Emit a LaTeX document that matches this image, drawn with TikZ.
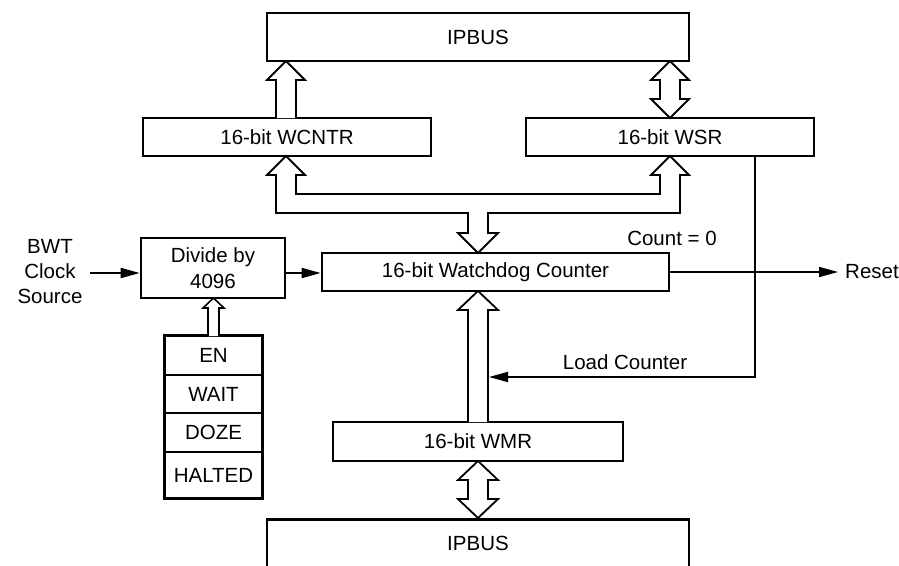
\documentclass[tikz,border=0pt]{standalone}
\usepackage{fontspec}
\setmainfont{Liberation Sans}
\usetikzlibrary{arrows.meta}
\begin{document}
\begin{tikzpicture}[x=1pt,y=-1pt,
  font=\fontsize{20.5}{25}\selectfont,
  box/.style={draw,line width=2.6pt,rectangle,inner sep=0pt,align=center},
  cell/.style={draw,line width=1.8pt,rectangle,inner sep=0pt,minimum width=97pt},
  fat/.style={draw,fill=white,line width=1.8pt,line join=miter},
  wire/.style={line width=1.8pt},
  tip/.style={-{Triangle[length=19pt,width=10pt]}},
  lbl/.style={inner sep=0pt,align=center}]
\clip (0,0) rectangle (899,565);
% boxes
\node[box,minimum width=422pt,minimum height=48pt] (ipbusT) at (478,37) {IPBUS};
\node[box,minimum width=288pt,minimum height=38pt] (wcntr) at (287,137) {16-bit WCNTR};
\node[box,minimum width=288pt,minimum height=38pt] (wsr) at (670,137) {16-bit WSR};
\node[box,minimum width=144pt,minimum height=60pt,font=\fontsize{20.5}{26}\selectfont] (div) at (213,268) {Divide by\\4096};
\node[box,minimum width=347pt,minimum height=38pt] (wdc) at (495.5,272) {16-bit Watchdog Counter};
\node[box,minimum width=290pt,minimum height=39pt] (wmr) at (478,441.5) {16-bit WMR};
\node[box,minimum width=422pt,minimum height=64pt,text height=15pt,anchor=north] (ipbusB) at (478,518) {};
\node[lbl] (ipbusBt) at (478,543) {IPBUS};
% stack
\node[cell,minimum height=39pt] (en) at (213.5,355.5) {EN};
\node[cell,minimum height=38pt] (wait) at (213.5,394) {WAIT};
\node[cell,minimum height=39pt] (doze) at (213.5,432.5) {DOZE};
\node[cell,minimum height=46pt] (halted) at (213.5,475) {HALTED};
\draw[line width=2.8pt] (en.north west) rectangle (halted.south east);
% labels
\node[lbl] (bwt) at (50,272) {BWT\\Clock\\Source};
\node[lbl] (cnt0) at (672,238) {Count = 0};
\node[lbl] (ldc) at (625,362) {Load Counter};
\node[lbl,anchor=west] (reset) at (845,272) {Reset};
% hollow arrows
\draw[fat] (276,118) -- (276,80) -- (267,80) -- (286,61) -- (305,80) -- (296,80) -- (296,118);
\draw[fat] (670,61) -- (689,80) -- (680,80) -- (680,99) -- (689,99) -- (670,118) -- (651,99) -- (660,99) -- (660,80) -- (651,80) -- cycle;
\draw[fat] (286,156) -- (305,175) -- (296,175) -- (296,194) -- (660,194) -- (660,175) -- (651,175) -- (670,156) -- (689,175) -- (680,175) -- (680,213) -- (488,213) -- (488,233) -- (498,233) -- (478,253) -- (458,233) -- (468,233) -- (468,213) -- (276,213) -- (276,175) -- (267,175) -- cycle;
\draw[fat] (468,422) -- (468,310) -- (458,310) -- (478,291) -- (498,310) -- (488,310) -- (488,422);
\draw[fat] (478,461) -- (498,480) -- (488,480) -- (488,499) -- (498,499) -- (478,518) -- (458,499) -- (468,499) -- (468,480) -- (458,480) -- cycle;
\draw[fat,line width=1.6pt] (208,336) -- (208,308) -- (203,308) -- (213.5,298) -- (224,308) -- (219,308) -- (219,336);
% wires
\coordinate (clk) at (90,273);
\draw[wire,tip] (clk) -- (div.west |- clk);
\draw[wire,tip] (div.east |- clk) -- (wdc.west |- clk);
\coordinate (rtip) at (838,272);
\draw[wire,tip] (wdc.east |- rtip) -- (rtip);
\coordinate (lc) at (755,377);
\coordinate (lctip) at (489,377);
\draw[wire,tip] (wsr.south -| lc) -- (lc) -- (lctip);
\end{tikzpicture}
\end{document}
